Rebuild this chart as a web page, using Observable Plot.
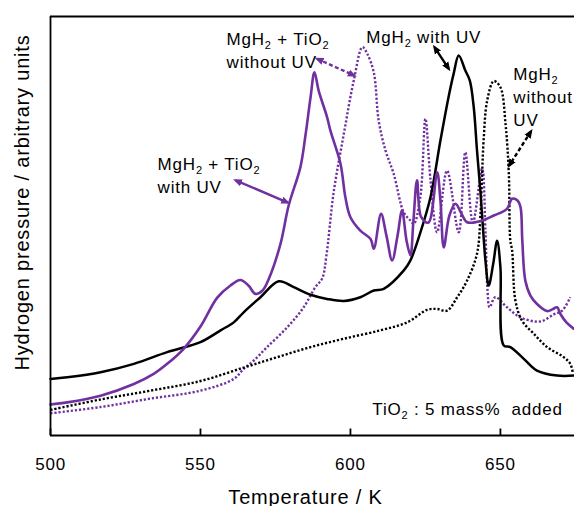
<!DOCTYPE html>
<html><head><meta charset="utf-8">
<script src="https://cdn.jsdelivr.net/npm/d3@7"></script>
<script src="https://cdn.jsdelivr.net/npm/@observablehq/plot@0.6"></script>
<style>body{margin:0;background:#fff} svg{display:block}</style>
</head><body><div id="chart"></div>
<script>
// ---- data (temperature K, hydrogen pressure in arbitrary units 0-100) ----
const xTicks = [500, 550, 600, 650];
const xDomain = [500, 674.7];
const yDomain = [0, 100];

// MgH2 with UV (black solid)
const mgUV_T = [500,505.6,516.7,527.8,538.9,550,556.7,561.1,564.4,570,576.1,581.1,586.7,592.2,597.8,603.3,607.8,611.1,617.8,620,623.3,626.7,630,632.8,634.4,636.1,638.3,639.8,641.1,642.2,643.3,644.4,645,646.1,647.6,648.9,650,651.1,653.3,657.8,662.2,668.9,674.7];
const mgUV_P = [13.5,13.9,15.1,17.1,19.9,22.3,25.1,27.0,29.4,33.0,36.8,35.4,33.6,32.6,32.1,33.0,34.6,35.0,39.4,41.8,48.4,56.9,70.4,81.1,86.3,90.7,87.1,84.7,78.4,68.0,58.5,47.3,41.8,35.8,41.0,46.5,40.2,21.5,21.1,18.3,15.5,14.3,14.3];

// MgH2 without UV (black dotted)
const mgNoUV_T = [500,516.7,533.3,550,564.4,575.6,586.7,597.8,610,618.9,625.6,628.9,632.2,635.6,638.9,642.2,643.3,643.9,644.4,645.6,647.8,650,651.7,652.8,653.3,653.9,655,657.2,661.1,665.6,671.1,673.3,674.2];
const mgNoUV_P = [6.1,8.6,10.7,13.0,16.2,18.7,21.1,23.1,25.1,27.0,30.0,30.2,29.8,33.0,37.0,43.4,52.1,62.5,70.4,80.0,84.6,83.1,74.4,62.5,46.5,44.2,32.2,27.4,24.3,21.1,18.7,17.1,14.7];

// MgH2 + TiO2 with UV (purple solid)
const tiUV_T = [500,505.6,516.7,527.8,534.4,538.9,544.4,550,555.6,560,563.3,566,568.3,570.7,572.8,576.7,579.4,583.3,585,586.7,588,589.4,592.2,593.3,596.7,598.3,600,603.3,606.7,607.8,610.2,612,613.9,615.7,617.2,618.7,620,621,622.2,623.6,626,628.9,630,631.1,633,635,637,638.9,643.9,647.8,652.2,653.9,655.7,656.7,657.3,658.3,660,662.2,665.6,667.3,668.9,670,672,674.4];
const tiUV_P = [7.4,7.9,9.5,12.3,14.7,17.1,20.7,26.0,32.9,35.8,37.1,35.8,33.8,34.6,37.4,45.8,54.9,64.0,71.6,80.7,86.7,82.3,76.0,72.8,64.8,56.9,52.1,48.9,46.9,44.6,52.9,47.7,41.8,47.7,53.7,46.5,43.0,51.3,60.9,52.1,50.8,62.8,56.1,44.9,52.5,55.3,53.0,50.9,51.3,52.5,54.1,56.5,56.1,54.5,46.5,37.0,33.4,31.4,29.7,30.1,30.6,29.0,27.0,25.5];

// MgH2 + TiO2 without UV (purple dotted)
const tiNoUV_T = [500,516.7,533.3,550,561.1,564.4,567.8,572.2,578.9,584.4,588.3,590.6,592,594.4,597.8,601.1,604,605.6,607.8,609.4,611.7,614.4,617.8,620,621.1,623.3,625,626.7,628.9,632.2,636.1,638.3,640.8,643.9,645,645.7,646.4,648.3,652.2,656.7,663.3,667.8,670.6,673.3];
const tiNoUV_P = [5.3,6.8,8.8,10.7,13.5,15.9,17.9,21.1,25.8,30.6,35.4,37.5,43.0,58.0,72.0,84.7,92.7,91.1,86.6,75.2,68.0,62.5,53.2,51.3,50.5,56.9,75.6,60.9,48.5,63.2,48.5,67.6,50.8,63.7,48.9,34.6,30.6,33.0,30.6,28.2,27.2,28.9,29.8,33.0];

// annotations
const annText = ["MgH₂ + TiO₂\nwithout UV", "MgH₂ with UV", "MgH₂\nwithout\nUV", "MgH₂ + TiO₂\nwith UV", "TiO₂ : 5 mass%\u00a0 added"];
const annX = [558.7, 605.3, 654.3, 535.7, 607.3];
const annY = [97.2, 97.6, 88.8, 67.4, 8.7];

// double-headed arrows
const arrX1 = [561.7, 588.9, 628.0, 660.2];
const arrY1 = [60.9, 89.9, 92.7, 72.6];
const arrX2 = [579.1, 601.3, 632.8, 652.9];
const arrY2 = [55.6, 85.9, 87.5, 64.4];
const arrColor = ["#7030A0", "#7030A0", "#000000", "#000000"];
const arrDashed = [false, true, false, true];

const xLabel = "Temperature / K";
const yLabel = "Hydrogen pressure / arbitrary units";

const PURPLE = "#7030A0";
const PLOT_H = 506 - 16 - 71;
const tickLen = 7 * (yDomain[1] - yDomain[0]) / PLOT_H;
const pts = (T, P) => d3.zip(T, P);
const arrows = arrX1.map((x1, i) => ({x1, y1: arrY1[i], x2: arrX2[i], y2: arrY2[i], color: arrColor[i], dashed: arrDashed[i]}));
const anns = annText.map((t, i) => ({t, x: annX[i], y: annY[i]}));
const tickRows = xTicks.map(t => ({t, y1: yDomain[0], y2: yDomain[0] + tickLen}));

const lineOpts = {x: d => d[0], y: d => d[1], curve: "catmull-rom"};
const dotted = {strokeWidth: 2.4, strokeDasharray: "2.2 1.9", strokeLinecap: "butt"};

// filled triangular arrowhead
const SVGNS = "http://www.w3.org/2000/svg";
function triMarker(color) {
  const m = document.createElementNS(SVGNS, "marker");
  m.setAttribute("viewBox", "-5 -5 10 10");
  m.setAttribute("markerWidth", 3.8);
  m.setAttribute("markerHeight", 3.8);
  m.setAttribute("refX", 2);
  m.setAttribute("orient", "auto-start-reverse");
  const p = document.createElementNS(SVGNS, "path");
  p.setAttribute("d", "M-5,-4L5,0L-5,4Z");
  p.setAttribute("fill", color);
  p.setAttribute("stroke", "none");
  m.appendChild(p);
  return m;
}

function build(marker) {
  return Plot.plot({
    width: 574, height: 506,
    marginLeft: 50, marginRight: 0, marginTop: 16, marginBottom: 71,
    style: {fontFamily: "'Liberation Sans', Arial, sans-serif", letterSpacing: "0.8px", background: "#fff", color: "#000"},
    x: {domain: xDomain, axis: null},
    y: {domain: yDomain, axis: null},
    marks: [
      Plot.line(pts(tiNoUV_T, tiNoUV_P), {...lineOpts, ...dotted, stroke: PURPLE}),
      Plot.line(pts(mgNoUV_T, mgNoUV_P), {...lineOpts, ...dotted, stroke: "#000"}),
      Plot.line(pts(mgUV_T, mgUV_P), {...lineOpts, stroke: "#000", strokeWidth: 2.5}),
      Plot.line(pts(tiUV_T, tiUV_P), {...lineOpts, stroke: PURPLE, strokeWidth: 2.6}),
      Plot.ruleY([yDomain[0]], {strokeWidth: 1.8}),
      Plot.ruleY([yDomain[1]], {strokeWidth: 2}),
      Plot.ruleX([xDomain[0]], {strokeWidth: 1.8}),
      Plot.link(tickRows, {x1: "t", x2: "t", y1: "y1", y2: "y2", stroke: "#000", strokeWidth: 1.8}),
      Plot.axisX(xTicks, {tickSize: 0, tickPadding: 22, fontSize: 17, tickFormat: d => String(d)}),
      Plot.link(arrows.filter(d => !d.dashed), {x1: "x1", y1: "y1", x2: "x2", y2: "y2", stroke: "color", strokeWidth: 2.4, markerStart: marker, markerEnd: marker}),
      Plot.link(arrows.filter(d => d.dashed), {x1: "x1", y1: "y1", x2: "x2", y2: "y2", stroke: "color", strokeWidth: 2.4, strokeDasharray: "4 2.5", strokeLinecap: "butt", markerStart: marker, markerEnd: marker}),
      Plot.text(anns, {x: "x", y: "y", text: "t", textAnchor: "start", lineAnchor: "top", lineHeight: 1.36, fontSize: 17, fill: "#000"}),
      Plot.text([xLabel], {text: d => d, frameAnchor: "bottom", textAnchor: "middle", dx: -7, dy: 61.6, fontSize: 20, lineAnchor: "middle", fill: "#000"}),
      Plot.text([yLabel], {text: d => d, frameAnchor: "left", textAnchor: "middle", rotate: -90, dx: -28.4, dy: -23.5, fontSize: 20, lineAnchor: "middle", fill: "#000"})
    ]
  });
}

let chart;
try { chart = build(triMarker); } catch (e) { chart = build("arrow"); }

// render "₂" as true subscripts
(function subscriptify(root) {
  const walker = document.createTreeWalker(root, NodeFilter.SHOW_TEXT);
  const nodes = [];
  while (walker.nextNode()) if (walker.currentNode.nodeValue.includes("₂")) nodes.push(walker.currentNode);
  for (const node of nodes) {
    const parts = node.nodeValue.split("₂");
    const frag = document.createDocumentFragment();
    parts.forEach((p, i) => {
      if (i > 0) {
        const t = document.createElementNS(SVGNS, "tspan");
        t.setAttribute("font-size", "11");
        t.setAttribute("baseline-shift", "-4");
        t.textContent = "2";
        frag.appendChild(t);
      }
      if (p) frag.appendChild(document.createTextNode(p));
    });
    node.parentNode.replaceChild(frag, node);
  }
})(chart);

document.getElementById("chart").appendChild(chart);
</script></body></html>
